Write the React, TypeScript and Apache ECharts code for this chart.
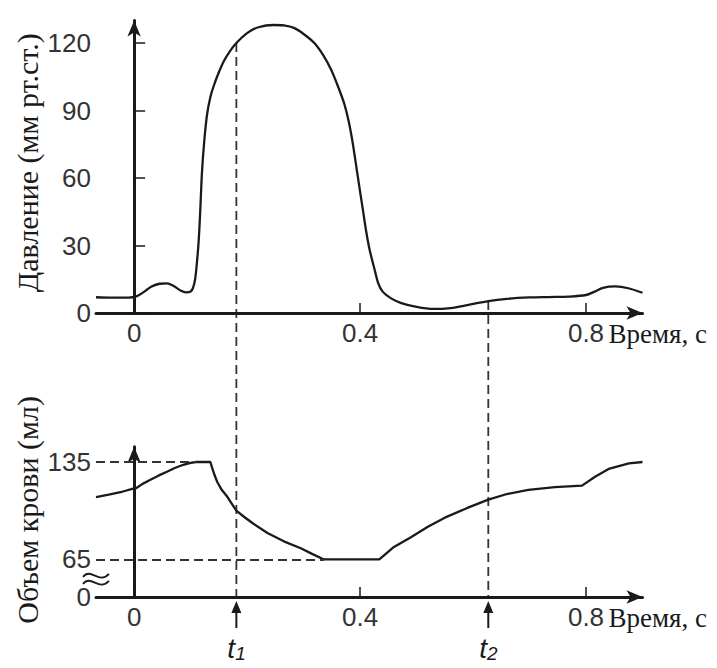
import React, { useEffect, useRef } from "react";
import * as echarts from "echarts";

// ---- data ----
const timeP = [
  -0.0675, -0.04, -0.01, 0.005, 0.018, 0.03, 0.045, 0.058, 0.07, 0.082, 0.092, 0.1, 0.104, 0.108,
  0.111, 0.114, 0.117, 0.12, 0.124, 0.129, 0.135, 0.141, 0.15, 0.159, 0.17, 0.181, 0.2, 0.22,
  0.247, 0.265, 0.283, 0.3, 0.319, 0.335, 0.349, 0.362, 0.372, 0.38, 0.387, 0.396, 0.405, 0.411,
  0.417, 0.425, 0.432, 0.44, 0.455, 0.473, 0.5, 0.53, 0.56, 0.59, 0.627, 0.66, 0.7, 0.734, 0.77,
  0.8, 0.815, 0.83, 0.852, 0.875, 0.9,
];
const pressure = [
  7, 6.8, 6.8, 7.5, 9.5, 11.7, 13, 13.2, 12, 10, 9.2, 9.6, 11, 15,
  22, 31, 45, 62, 76, 88, 96, 101, 107, 112, 116.5, 120, 124.4, 127,
  128, 127.8, 126.7, 124, 120, 114.5, 108, 100, 93, 85, 75.5, 60.6, 45.8, 36,
  28, 20, 13.3, 9.5, 6.5, 4.4, 2.7, 1.8, 2.2, 3.5, 5.3, 6.3, 6.9, 7.1, 7.3,
  8, 9.5, 11.2, 11.8, 11, 9,
];
const timeV = [
  -0.0675, -0.045, -0.02, 0, 0.004, 0.015, 0.028, 0.043, 0.058, 0.072, 0.087, 0.1, 0.11, 0.135,
  0.138, 0.142, 0.147, 0.155, 0.165, 0.181, 0.195, 0.21, 0.236, 0.265, 0.295, 0.315, 0.336,
  0.434, 0.46, 0.49, 0.52, 0.55, 0.59, 0.627, 0.66, 0.698, 0.745, 0.793, 0.816, 0.84, 0.876, 0.9,
];
const volume = [
  109.7, 111.5, 113.8, 116, 116.3, 119.3, 122, 125.2, 128, 130.7, 133, 134.4, 135, 135,
  131, 126, 120.8, 115, 110, 100, 95.5, 91, 84, 78, 73, 69, 65,
  65, 74, 81, 88.5, 95, 102, 108, 112, 115, 117, 118, 124.4, 130, 134, 135,
];
const timeTicks = [0, 0.4, 0.8];
const pressureTicks = [0, 30, 60, 90, 120];
const volumeTicks = [65, 135];
const volumeZeroLabel = "0";
const t1 = 0.181;
const t2 = 0.627;
const edvLevel = 135;
const esvLevel = 65;

const pName = "Давление (мм рт.ст.)";
const vName = "Объем крови (мл)";
const xName = "Время, с";

// axis ranges (layout)
const X_MIN = -0.0675;
const X_MAX = 0.9;
const P_MAX = 130;
const V_MIN = 38; // shown as "0" below the axis break
const V_MAX = 146;

const SANS = "Liberation Sans";
const SERIF = "Liberation Serif";
const INK = "#1a1a1a";

export default function App() {
  const ref = useRef<HTMLDivElement>(null);
  useEffect(() => {
    document.body.style.margin = "0";
    const chart = echarts.init(ref.current!, null, { renderer: "svg" });
    const pData = timeP.map((t, i) => [t, pressure[i]]);
    const vData = timeV.map((t, i) => [t, volume[i]]);

    const xAxisBase = (gridIndex: number) => ({
      type: "value",
      gridIndex,
      min: X_MIN,
      max: X_MAX,
      axisLine: {
        onZero: false,
        lineStyle: { color: INK, width: 3 },
        symbol: ["none", "arrow"],
        symbolSize: [10, 16],
      },
      axisTick: { show: true, inside: true, length: 10, customValues: timeTicks, lineStyle: { color: INK, width: 1.5 } },
      axisLabel: {
        customValues: timeTicks,
        formatter: (v: number) => String(v),
        fontFamily: SANS,
        fontSize: 26,
        color: "#333",
        margin: 7,
      },
      splitLine: { show: false },
    });

    const yAxisBase = (gridIndex: number, min: number, max: number) => ({
      type: "value",
      gridIndex,
      min,
      max,
      axisLine: { show: true, lineStyle: { color: INK, width: 3 }, symbol: ["none", "arrow"], symbolSize: [10, 16] },
      splitLine: { show: false },
    });

    chart.setOption({
      animation: false,
      backgroundColor: "#fff",
      grid: [
        { left: 96, top: 20.5, width: 546.5, height: 292.5, containLabel: false, outerBoundsMode: "none" },
        { left: 96, top: 446.7, width: 546.5, height: 150.3, containLabel: false, outerBoundsMode: "none" },
      ],
      xAxis: [xAxisBase(0), xAxisBase(1)],
      yAxis: [
        {
          ...yAxisBase(0, 0, P_MAX),
          axisTick: { show: true, inside: true, length: 11, customValues: pressureTicks, lineStyle: { color: INK, width: 1.5 } },
          axisLabel: { customValues: pressureTicks, fontFamily: SANS, fontSize: 26, color: "#333", margin: 5 },
        },
        {
          ...yAxisBase(1, V_MIN, V_MAX),
          axisTick: { show: false },
          axisLabel: {
            customValues: [V_MIN, ...volumeTicks],
            formatter: (v: number) => (v === V_MIN ? volumeZeroLabel : String(v)),
            fontFamily: SANS,
            fontSize: 26,
            color: "#333",
            margin: 5,
          },
        },
      ],
      series: [
        {
          type: "line",
          xAxisIndex: 0,
          yAxisIndex: 0,
          data: pData,
          showSymbol: false,
          smooth: 0.3,
          lineStyle: { color: INK, width: 2.3 },
          silent: true,
        },
        {
          type: "line",
          xAxisIndex: 1,
          yAxisIndex: 1,
          data: vData,
          showSymbol: false,
          smooth: false,
          lineStyle: { color: INK, width: 2.3 },
          silent: true,
          markLine: {
            silent: true,
            symbol: ["none", "none"],
            label: { show: false },
            lineStyle: { color: "#333", width: 1.8, type: [9, 5] },
            data: [
              [{ coord: [X_MIN, edvLevel] }, { coord: [0.11, edvLevel] }],
              [{ coord: [X_MIN, esvLevel] }, { coord: [0.336, esvLevel] }],
            ],
          },
        },
      ],
    });

    const graphics: any[] = [];

    // axis titles
    const pTop = chart.convertToPixel({ gridIndex: 0 }, [X_MIN, P_MAX]) as number[];
    const pBot = chart.convertToPixel({ gridIndex: 0 }, [X_MIN, 0]) as number[];
    const vTop = chart.convertToPixel({ gridIndex: 1 }, [X_MIN, V_MAX]) as number[];
    const vBot = chart.convertToPixel({ gridIndex: 1 }, [X_MIN, V_MIN]) as number[];
    const xEnd = chart.convertToPixel({ gridIndex: 0 }, [X_MAX, 0]) as number[];
    graphics.push({
      type: "text",
      x: 27,
      y: (pTop[1] + pBot[1]) / 2 - 4,
      rotation: Math.PI / 2,
      style: { text: pName, fontFamily: SERIF, fontSize: 30, fill: INK, align: "center", verticalAlign: "middle" },
      silent: true,
    });
    graphics.push({
      type: "text",
      x: 27,
      y: (vTop[1] + vBot[1]) / 2 - 12,
      rotation: Math.PI / 2,
      style: { text: vName, fontFamily: SERIF, fontSize: 30, fill: INK, align: "center", verticalAlign: "middle" },
      silent: true,
    });
    [pBot[1], vBot[1]].forEach((ay) => {
      graphics.push({
        type: "text",
        x: xEnd[0] - 34,
        y: ay + 21,
        style: { text: xName, fontFamily: SERIF, fontSize: 27, fill: INK, align: "left", verticalAlign: "middle" },
        silent: true,
      });
    });

    // t1 / t2 markers
    const pAt = (t: number) => pressure[timeP.indexOf(t)];
    const markers = [
      { t: t1, sub: "1" },
      { t: t2, sub: "2" },
    ];
    markers.forEach((m) => {
      const top = chart.convertToPixel({ gridIndex: 0 }, [m.t, pAt(m.t)]) as number[];
      const bot = chart.convertToPixel({ gridIndex: 1 }, [m.t, V_MIN]) as number[];
      const x = top[0];
      graphics.push({
        type: "line",
        shape: { x1: x, y1: top[1], x2: x, y2: bot[1] },
        style: { stroke: "#333", lineWidth: 1.8, lineDash: [9, 5] },
        silent: true,
      });
      graphics.push({
        type: "polygon",
        shape: { points: [[x, bot[1] + 4], [x - 5, bot[1] + 16], [x + 5, bot[1] + 16]] },
        style: { fill: INK },
        silent: true,
      });
      graphics.push({
        type: "line",
        shape: { x1: x, y1: bot[1] + 14, x2: x, y2: bot[1] + 31 },
        style: { stroke: INK, lineWidth: 2 },
        silent: true,
      });
      graphics.push({
        type: "text",
        x: x - 9,
        y: bot[1] + 37,
        style: {
          text: "{t|t}{s|" + m.sub + "}",
          rich: {
            t: { fontFamily: SANS, fontStyle: "italic", fontSize: 28, fill: INK, lineHeight: 29 },
            s: { fontFamily: SANS, fontStyle: "italic", fontSize: 19, fill: INK, verticalAlign: "bottom", lineHeight: 20 },
          },
        },
        silent: true,
      });
    });
    // axis break symbol on the volume axis
    const brk = chart.convertToPixel({ gridIndex: 1 }, [X_MIN, 51]) as number[];
    [-3, 4].forEach((dy) => {
      const bx = brk[0];
      const by = brk[1] + dy;
      graphics.push({
        type: "bezierCurve",
        shape: { x1: bx - 13, y1: by + 1, cpx1: bx - 5, cpy1: by - 9, cpx2: bx + 3, cpy2: by + 9, x2: bx + 13, y2: by - 2 },
        style: { stroke: INK, lineWidth: 1.8, fill: null },
        silent: true,
      });
    });
    chart.setOption({ graphic: graphics });

    return () => chart.dispose();
  }, []);
  return <div ref={ref} style={{ width: 717, height: 668 }} />;
}
